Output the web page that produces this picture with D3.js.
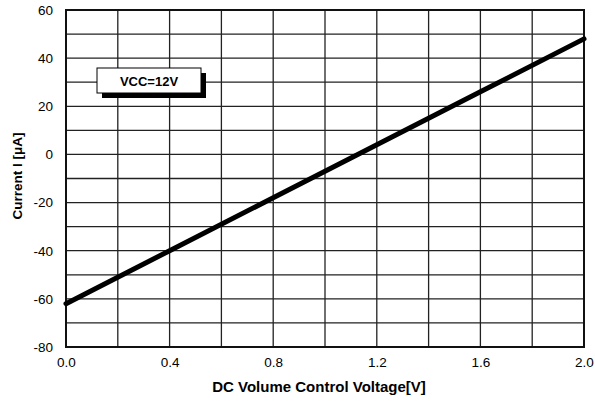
<!DOCTYPE html>
<html>
<head>
<meta charset="utf-8">
<script src="https://cdn.jsdelivr.net/npm/d3@7"></script>
<style>
    body { margin: 0; background: #fff; }
    text { font-family: "Liberation Sans", Arial, sans-serif; }
</style>
</head>
<body>
<div id="chart"></div>
<script>
// data
var voltage = [0.0, 0.4, 0.8, 1.2, 1.6, 2.0];
var current = [-62, -40, -18, 4, 26, 48];
var xTicks = [0.0, 0.4, 0.8, 1.2, 1.6, 2.0];
var yTicks = [-80, -60, -40, -20, 0, 20, 40, 60];
var legendText = "VCC=12V";

var width = 595, height = 401;
var margin = { left: 66, top: 10, right: 11, bottom: 54 };
var plotW = width - margin.left - margin.right;
var plotH = height - margin.top - margin.bottom;

var svg = d3.select("#chart").append("svg")
    .attr("width", width)
    .attr("height", height);

var g = svg.append("g").attr("transform", "translate(" + margin.left + "," + margin.top + ")");

var x = d3.scaleLinear().domain([0, 2]).range([0, plotW]);
var y = d3.scaleLinear().domain([-80, 60]).range([plotH, 0]);

// grid
g.append("g").selectAll("line")
    .data(d3.range(0, 2.0001, 0.2))
    .enter().append("line")
    .attr("x1", d => x(d)).attr("x2", d => x(d))
    .attr("y1", 0).attr("y2", plotH)
    .attr("stroke", "#222").attr("stroke-width", 1.3);

g.append("g").selectAll("line")
    .data(d3.range(-80, 60.001, 10))
    .enter().append("line")
    .attr("y1", d => y(d)).attr("y2", d => y(d))
    .attr("x1", 0).attr("x2", plotW)
    .attr("stroke", "#222").attr("stroke-width", 1.3);

g.append("rect")
    .attr("width", plotW).attr("height", plotH)
    .attr("fill", "none").attr("stroke", "#111").attr("stroke-width", 2);

// axes (labels only), plain hyphen for negatives like the original
var xAxis = g.append("g")
    .attr("transform", "translate(0," + plotH + ")")
    .call(d3.axisBottom(x).tickValues(xTicks).tickFormat(d => d.toFixed(1)).tickSize(0).tickPadding(10));
var yAxis = g.append("g")
    .call(d3.axisLeft(y).tickValues(yTicks).tickFormat(d => String(d)).tickSize(0).tickPadding(13));
[xAxis, yAxis].forEach(a => {
    a.select(".domain").remove();
    a.selectAll("text")
        .attr("font-family", "'Liberation Sans', Arial, sans-serif")
        .attr("font-size", 13.5).attr("fill", "#000");
});

// line
var line = d3.line().x((d, i) => x(voltage[i])).y(d => y(d));
g.append("path")
    .datum(current)
    .attr("d", line)
    .attr("fill", "none").attr("stroke", "#000").attr("stroke-width", 5)
    .attr("stroke-linecap", "round");

// legend box with shadow
var bx = 31, by = 58, bw = 104, bh = 25;
g.append("rect").attr("x", bx + 5).attr("y", by + 5).attr("width", bw).attr("height", bh).attr("fill", "#000");
g.append("rect").attr("x", bx).attr("y", by).attr("width", bw).attr("height", bh)
    .attr("fill", "#fff").attr("stroke", "#000").attr("stroke-width", 1);
g.append("text").attr("x", bx + bw / 2).attr("y", by + bh / 2 + 5)
    .attr("text-anchor", "middle").attr("font-size", 13).attr("font-weight", "bold")
    .text(legendText);

// axis titles
svg.append("text")
    .attr("x", margin.left + plotW / 2 - 6).attr("y", 392)
    .attr("text-anchor", "middle").attr("font-size", 15).attr("font-weight", "bold")
    .text("DC Volume Control Voltage[V]");
svg.append("text")
    .attr("transform", "translate(22," + 176 + ") rotate(-90)")
    .attr("text-anchor", "middle").attr("font-size", 13.5).attr("font-weight", "bold")
    .text("Current I [μA]");
</script>
</body>
</html>
